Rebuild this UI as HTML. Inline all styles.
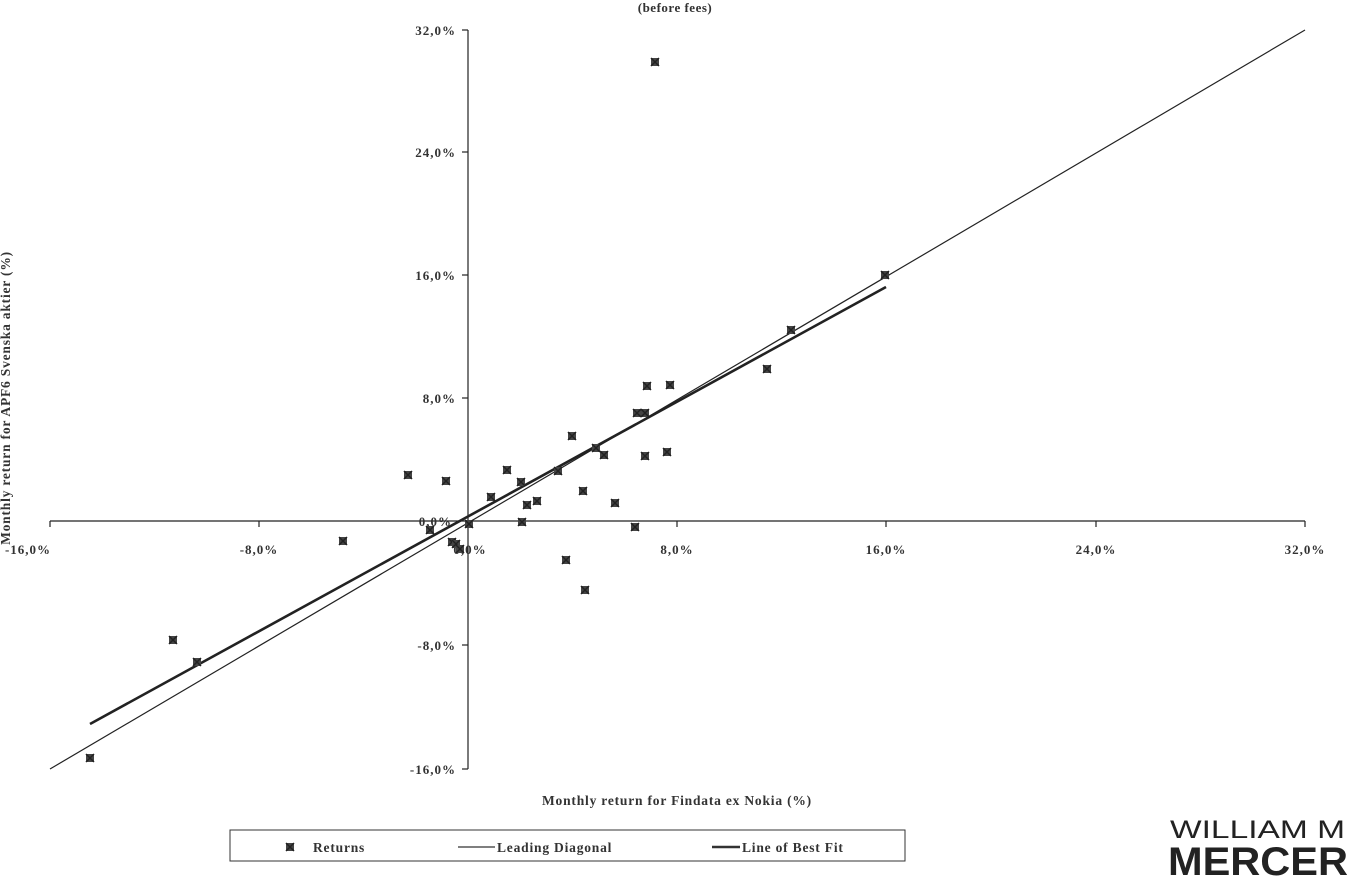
<!DOCTYPE html>
<html><head><meta charset="utf-8"><style>
html,body{margin:0;padding:0;background:#fff;}
svg{display:block;font-family:"Liberation Serif",serif;font-weight:bold;}
</style></head><body>
<svg width="1351" height="877" viewBox="0 0 1351 877" xmlns="http://www.w3.org/2000/svg">
<defs>
<g id="m"><rect x="-4" y="-4" width="8" height="8" fill="#444"/><path d="M-4,-4L4,4M4,-4L-4,4" stroke="#222" stroke-width="1.5"/></g>
</defs>
<rect width="1351" height="877" fill="#fff"/>
<text x="675" y="12" font-size="13" text-anchor="middle" fill="#333" letter-spacing="0.5">(before fees)</text>
<g stroke="#222" stroke-width="1.2" fill="none">
<line x1="50" y1="521" x2="1305" y2="521"/>
<line x1="468" y1="30" x2="468" y2="769"/>
<line x1="50" y1="521" x2="50" y2="527"/><line x1="259" y1="521" x2="259" y2="527"/>
<line x1="677" y1="521" x2="677" y2="527"/><line x1="886" y1="521" x2="886" y2="527"/>
<line x1="1096" y1="521" x2="1096" y2="527"/><line x1="1305" y1="521" x2="1305" y2="527"/>
<line x1="462" y1="30" x2="468" y2="30"/><line x1="462" y1="152" x2="468" y2="152"/>
<line x1="462" y1="275" x2="468" y2="275"/><line x1="462" y1="398" x2="468" y2="398"/>
<line x1="462" y1="645" x2="468" y2="645"/><line x1="462" y1="769" x2="468" y2="769"/>
<line x1="50" y1="769" x2="1305" y2="30" stroke-width="1.2"/>
<line x1="90" y1="724" x2="886" y2="287" stroke-width="2.6"/>
</g>
<g font-size="13" fill="#333" text-anchor="end" letter-spacing="1">
<text x="456" y="35">32,0%</text><text x="456" y="157">24,0%</text>
<text x="456" y="280">16,0%</text><text x="456" y="403">8,0%</text>
<text x="452" y="526">0,0%</text><text x="456" y="650">-8,0%</text>
<text x="456" y="774">-16,0%</text>
</g>
<g font-size="13" fill="#333" text-anchor="middle" letter-spacing="1">
<text x="28" y="554">-16,0%</text><text x="259" y="554">-8,0%</text>
<text x="470" y="554">0,0%</text><text x="677" y="554">8,0%</text>
<text x="886" y="554">16,0%</text><text x="1096" y="554">24,0%</text>
<text x="1305" y="554">32,0%</text>
<text x="677" y="805" font-size="13.5" letter-spacing="0.8">Monthly return for Findata ex Nokia (%)</text>
<text transform="translate(10,398) rotate(-90)" font-size="13.5" letter-spacing="0.8">Monthly return for APF6 Svenska aktier (%)</text>
</g>
<g>
<use href="#m" x="655" y="62"/><use href="#m" x="885" y="275"/><use href="#m" x="791" y="330"/>
<use href="#m" x="767" y="369"/><use href="#m" x="647" y="386"/><use href="#m" x="670" y="385"/>
<use href="#m" x="637" y="413"/><use href="#m" x="645" y="413"/><use href="#m" x="572" y="436"/>
<use href="#m" x="596" y="448"/><use href="#m" x="604" y="455"/><use href="#m" x="645" y="456"/>
<use href="#m" x="667" y="452"/><use href="#m" x="408" y="475"/><use href="#m" x="446" y="481"/>
<use href="#m" x="507" y="470"/><use href="#m" x="558" y="471"/><use href="#m" x="521" y="482"/>
<use href="#m" x="491" y="497"/><use href="#m" x="537" y="501"/><use href="#m" x="527" y="505"/>
<use href="#m" x="583" y="491"/><use href="#m" x="615" y="503"/><use href="#m" x="522" y="522"/>
<use href="#m" x="469" y="524"/><use href="#m" x="635" y="527"/><use href="#m" x="430" y="530"/>
<use href="#m" x="452" y="542"/><use href="#m" x="456" y="544"/><use href="#m" x="460" y="549"/>
<use href="#m" x="343" y="541"/><use href="#m" x="566" y="560"/><use href="#m" x="585" y="590"/>
<use href="#m" x="173" y="640"/><use href="#m" x="197" y="662"/><use href="#m" x="90" y="758"/>
<use href="#m" x="290" y="847"/>
</g>
<rect x="230" y="830" width="675" height="31" fill="none" stroke="#333" stroke-width="1"/>
<g font-size="13.5" fill="#333" letter-spacing="0.8">
<text x="313" y="852">Returns</text>
<line x1="458" y1="847" x2="495" y2="847" stroke="#333" stroke-width="1.2"/>
<text x="497" y="852">Leading Diagonal</text>
<line x1="712" y1="847" x2="740" y2="847" stroke="#333" stroke-width="2.6"/>
<text x="742" y="852">Line of Best Fit</text>
</g>
<g font-family="Liberation Sans,sans-serif" fill="#222">
<text x="1170" y="838" font-size="25" font-weight="normal" textLength="175" lengthAdjust="spacingAndGlyphs">WILLIAM M</text>
<text x="1168" y="875" font-size="40" font-weight="bold" textLength="180" lengthAdjust="spacingAndGlyphs">MERCER</text>
</g>
</svg>
</body></html>
